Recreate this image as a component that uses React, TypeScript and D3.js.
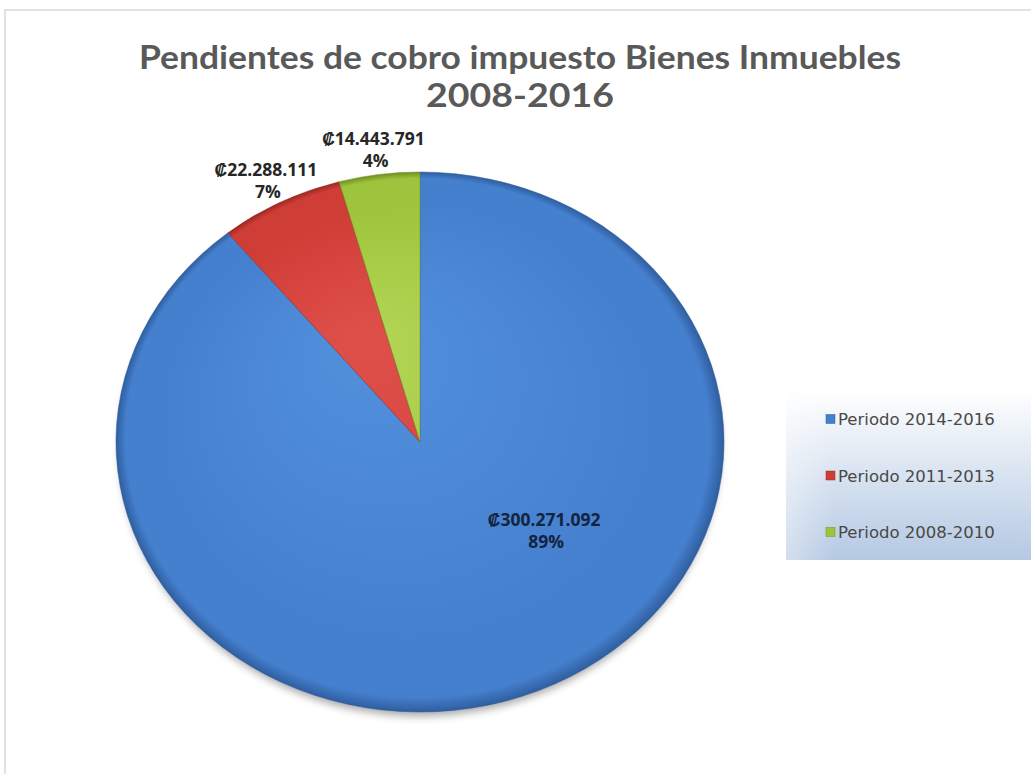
import React from "react";
import * as d3 from "d3";

const categories = ["Periodo 2014-2016", "Periodo 2011-2013", "Periodo 2008-2010"];
const values = [300271092, 22288111, 14443791];
const valueLabels = ["₡300.271.092", "₡22.288.111", "₡14.443.791"];
const titleLines = ["Pendientes de cobro impuesto Bienes Inmuebles", "2008-2016"];

const W = 1031, H = 774;
const cx = 420, cy = 442, rx = 304, ry = 270;
const colors = [
  { light: "#5290dc", mid: "#4580cf", dark: "#2f5e9f" },
  { light: "#e0504a", mid: "#cf3d37", dark: "#9c2824" },
  { light: "#b3d655", mid: "#9dc43c", dark: "#6f8f22" },
];

export default function App() {
  const total = d3.sum(values);
  const pie = d3.pie<number>().sort(null).startAngle(0).endAngle(2 * Math.PI).value((d) => d);
  const arcs = pie(values);
  const arc = d3.arc<d3.PieArcDatum<number>>().innerRadius(0).outerRadius(rx);
  const sy = ry / rx;
  const fmtPct = (v: number) => Math.round((v / total) * 100) + "%";

  const posAt = (angle: number, r: number) => [cx + Math.sin(angle) * rx * r, cy - Math.cos(angle) * ry * r];

  const labelPos = arcs.map((a, i) => {
    if (i === 0) return posAt((128.5 * Math.PI) / 180, 0.53);
    return posAt((a.startAngle + a.endAngle) / 2, 1.09);
  });

  return (
    <svg width={W} height={H} style={{ position: "fixed", left: 0, top: 0, background: "#fff" }}
      fontFamily="Lato, 'Open Sans', sans-serif">
      <defs>
        {colors.map((c, i) => (
          <radialGradient key={i} id={"g" + i} gradientUnits="userSpaceOnUse" cx={0} cy={0} r={rx} fx={-60} fy={-120}>
            <stop offset="0%" stopColor={c.light} />
            <stop offset="80%" stopColor={c.mid} />
            <stop offset="96%" stopColor={c.mid} />
            <stop offset="100%" stopColor={c.dark} />
          </radialGradient>
        ))}
        <linearGradient id="legbg" x1="0" y1="0" x2="0" y2="1">
          <stop offset="0%" stopColor="#ffffff" />
          <stop offset="45%" stopColor="#dce6f2" />
          <stop offset="100%" stopColor="#b5c9e3" />
        </linearGradient>
        <linearGradient id="legfade" x1="0" y1="0" x2="1" y2="0">
          <stop offset="0%" stopColor="#ffffff" stopOpacity={0.4} />
          <stop offset="20%" stopColor="#ffffff" stopOpacity={0} />
        </linearGradient>
        <filter id="shadow" x="-10%" y="-10%" width="120%" height="125%">
          <feGaussianBlur stdDeviation="4" />
        </filter>
      </defs>
      <rect x={0} y={0} width={W} height={H} fill="#fff" />
      <path d={`M5,${H} V10 H${W}`} fill="none" stroke="#d9d9d9" strokeWidth={1.5} />

      {titleLines.map((t, i) => (
        <text key={i} x={520} y={69 + i * 38} textAnchor="middle" fontSize={32} fontWeight="bold" fill="#595959"
          textLength={i === 0 ? 762 : 188} lengthAdjust="spacingAndGlyphs">{t}</text>
      ))}

      <ellipse cx={cx} cy={cy + 6} rx={rx - 4} ry={ry - 2} fill="#000" opacity={0.35} filter="url(#shadow)" />
      <g transform={`translate(${cx},${cy}) scale(1,${sy})`}>
        {arcs.map((a, i) => (
          <path key={i} d={arc(a) || ""} fill={`url(#g${i})`} stroke={colors[i].dark} strokeWidth={1} strokeOpacity={0.5}
            vectorEffect="non-scaling-stroke" />
        ))}
      </g>

      {arcs.map((a, i) => {
        const [x, y] = labelPos[i];
        const fill = i === 0 ? "#14233f" : "#262626";
        return (
          <text key={i} textAnchor="middle" fontSize={17.5} fontWeight="bold" fill={fill} fontFamily="'Open Sans', sans-serif">
            <tspan x={x - 2} y={y - 5}>{valueLabels[i]}</tspan>
            <tspan x={x} y={y + 17}>{fmtPct(a.data)}</tspan>
          </text>
        );
      })}

      <g>
        <rect x={786} y={390} width={W - 786} height={170} fill="url(#legbg)" />
        <rect x={786} y={390} width={W - 786} height={170} fill="url(#legfade)" />
        {categories.map((c, i) => {
          const y = 419 + i * 56.5;
          return (
            <g key={c}>
              <rect x={826} y={y - 4.5} width={9} height={9} fill={colors[i].mid} stroke={colors[i].dark} strokeWidth={0.5} />
              <text x={838} y={y + 6} fontSize={16.5} fill="#484848" fontFamily="'DejaVu Sans', sans-serif">{c}</text>
            </g>
          );
        })}
      </g>
    </svg>
  );
}
